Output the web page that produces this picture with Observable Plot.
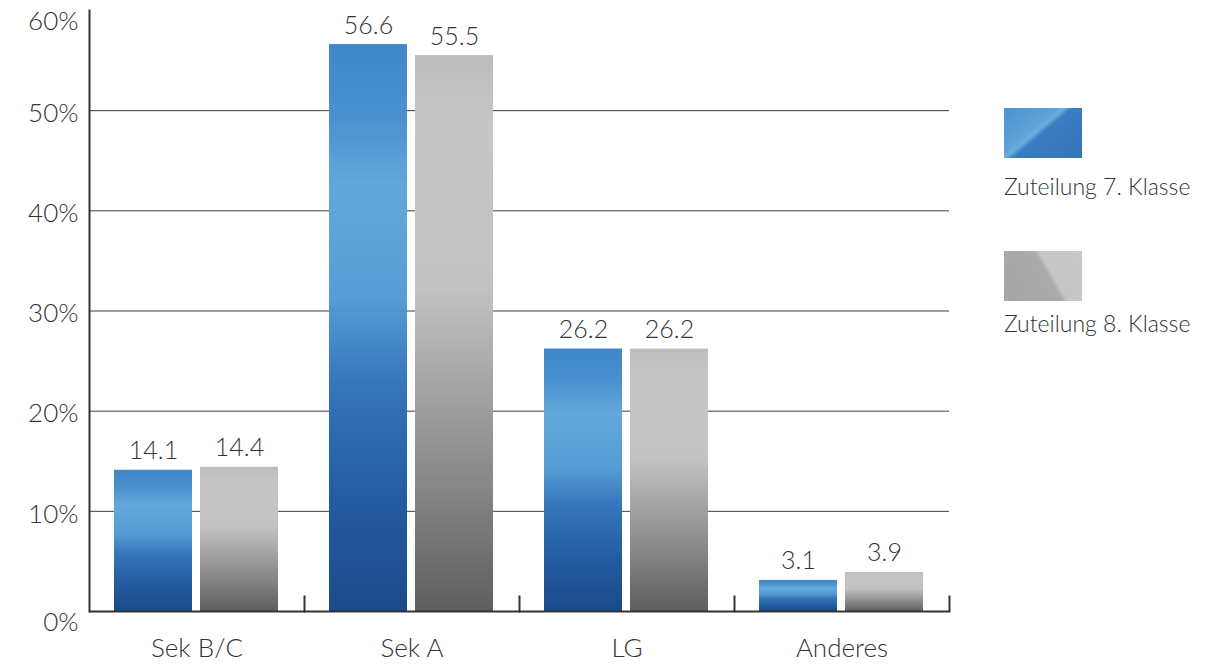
<!DOCTYPE html>
<html>
<head>
<meta charset="utf-8">
<script src="https://cdn.jsdelivr.net/npm/d3@7"></script>
<script src="https://cdn.jsdelivr.net/npm/@observablehq/plot@0.6"></script>
<style>
  body { margin: 0; background: #fff; }
  #wrap { position: relative; width: 1226px; height: 666px; font-family: Lato, "Open Sans", sans-serif; font-weight: 300; color: #333; }
  .swatch { position: absolute; width: 78px; height: 50px; }
  .label { position: absolute; font-size: 23px; line-height: 24px; white-space: nowrap; color: #333; }
  #sw7 { left: 1004px; top: 108px; background: linear-gradient(140deg, #4d93cf 0%, #5da2d8 38%, #6aaedd 44%, #3a7dc2 50%, #3473ba 100%); }
  #sw8 { left: 1004px; top: 251px; background: linear-gradient(60deg, #a6a6a6 0%, #ababab 55%, #c6c6c6 60%, #c9c9c9 100%); }
  #lb7 { left: 1004px; top: 174px; }
  #lb8 { left: 1004px; top: 311px; }
</style>
</head>
<body>
<div id="wrap">
  <div class="swatch" id="sw7"></div>
  <div class="label" id="lb7"></div>
  <div class="swatch" id="sw8"></div>
  <div class="label" id="lb8"></div>
</div>
<script>
// School-track allocation shares (percent), grade 7 vs grade 8
const categories = ["Sek B/C", "Sek A", "LG", "Anderes"];
const seriesNames = ["Zuteilung 7. Klasse", "Zuteilung 8. Klasse"];
const values7 = [14.1, 56.6, 26.2, 3.1];
const values8 = [14.4, 55.5, 26.2, 3.9];
const gridTicks = [10, 20, 30, 40, 50];
const edgeTicks = [0, 60];

const rows = categories.flatMap((c, i) => [
  {category: c, series: seriesNames[0], value: values7[i]},
  {category: c, series: seriesNames[1], value: values8[i]}
]);

const fmt = d3.format(".1f");
const pct = d => d + "%";
const ink = "#333";
const fs = 26;

const chart = Plot.plot({
  width: 1226,
  height: 666,
  marginLeft: 88,
  marginRight: 276,
  marginTop: 10,
  marginBottom: 55,
  style: {fontFamily: "Lato, 'Open Sans', sans-serif", fontWeight: 300, color: ink, background: "transparent"},
  fx: {domain: categories, padding: 0, label: null},
  x: {domain: seriesNames, paddingInner: 0.092, paddingOuter: 0.2845, axis: null},
  y: {domain: [0, 60], axis: null},
  marks: [
    Plot.ruleY(gridTicks, {stroke: "#3c3c3c", strokeWidth: 1}),
    Plot.barY(rows.filter(d => d.series === seriesNames[0]), {fx: "category", x: "series", y: "value", fill: "url(#bar-blue)"}),
    Plot.barY(rows.filter(d => d.series === seriesNames[1]), {fx: "category", x: "series", y: "value", fill: "url(#bar-gray)"}),
    Plot.text(rows, {fx: "category", x: "series", y: "value", text: d => fmt(d.value), lineAnchor: "bottom", dy: -11, fontSize: 25, fill: ink}),
    Plot.ruleY([0], {stroke: ink, strokeWidth: 2}),
    Plot.frame({anchor: "right", insetTop: 586, stroke: ink, strokeWidth: 2}),
    Plot.frame({anchor: "left", facet: "super", stroke: ink, strokeWidth: 2}),
    Plot.axisY({ticks: gridTicks, tickSize: 0, tickPadding: 11, dy: 3, fontSize: fs, tickFormat: pct, label: null}),
    Plot.axisY({ticks: edgeTicks, tickSize: 0, tickPadding: 11, dy: 11, fontSize: fs, tickFormat: pct, label: null}),
    Plot.axisFx({anchor: "bottom", tickSize: 0, tickPadding: 27, fontSize: fs, label: null})
  ]
});

// Gradient fills for the bars
const defs = d3.create("svg:defs");
function grad(id, stops) {
  const g = defs.append("linearGradient").attr("id", id).attr("x1", 0).attr("y1", 0).attr("x2", 0).attr("y2", 1);
  for (const [o, c] of stops) g.append("stop").attr("offset", o).attr("stop-color", c);
}
grad("bar-blue", [[0, "#3f87c8"], [0.12, "#4890ce"], [0.25, "#62a8db"], [0.45, "#559dd4"], [0.6, "#3575ba"], [0.8, "#245ca0"], [1, "#1b4a8a"]]);
grad("bar-gray", [[0, "#bdbdbd"], [0.12, "#c6c6c6"], [0.42, "#c2c2c2"], [0.58, "#a7a7a7"], [0.8, "#828282"], [1, "#5e5e5e"]]);
chart.insertBefore(defs.node(), chart.firstChild);

chart.style.position = "absolute";
chart.style.left = "0";
chart.style.top = "0";
const wrap = document.getElementById("wrap");
wrap.insertBefore(chart, wrap.firstChild);
document.getElementById("lb7").textContent = seriesNames[0];
document.getElementById("lb8").textContent = seriesNames[1];
</script>
</body>
</html>
